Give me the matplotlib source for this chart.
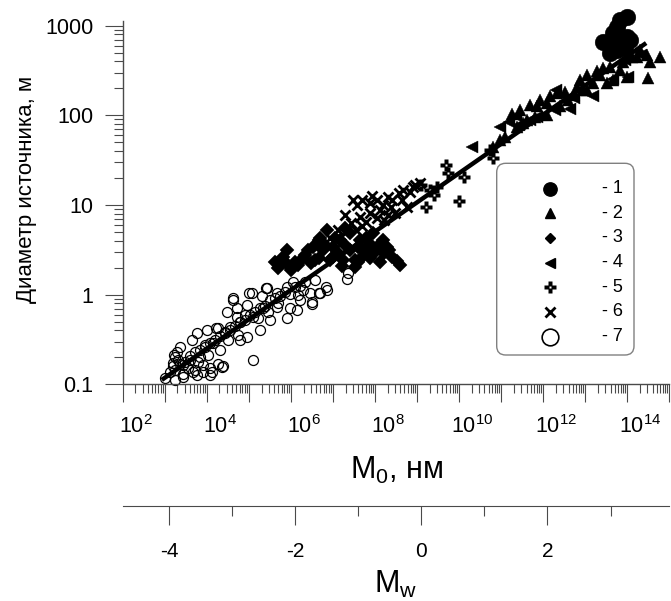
import numpy as np
import matplotlib
matplotlib.use('Agg')
import matplotlib.pyplot as plt
import matplotlib.transforms as mtransforms
from matplotlib.path import Path
from matplotlib.patches import FancyBboxPatch
from matplotlib.lines import Line2D
from matplotlib.ticker import LogLocator, FuncFormatter, FixedLocator, NullFormatter

plt.rcParams['font.family'] = ['Liberation Sans', 'DejaVu Sans']
plt.rcParams['mathtext.fontset'] = 'custom'
plt.rcParams['mathtext.rm'] = 'Liberation Sans'
plt.rcParams['mathtext.it'] = 'Liberation Sans:italic'

# data, stored as log10(M0, N*m) and log10(D, m)
lgm_1 = [13.83, 13.99, 13.75, 13.67, 13.43, 13.55, 13.83, 13.99, 13.59, 13.75, 13.95, 14.07]
lgd_1 = [3.064, 3.10, 2.99, 2.916, 2.822, 2.804, 2.841, 2.878, 2.692, 2.729, 2.766, 2.841]

lgm_2 = [11.25, 11.45, 11.61, 11.85, 11.92, 12.08, 12.16, 12.32, 12.40, 12.60,
         12.72, 12.80, 12.88, 13.03, 13.19, 13.27, 13.43, 13.59, 13.67, 13.83,
         13.90, 13.99, 14.10, 14.22, 14.30, 14.46, 14.54, 14.78,
         10.81, 10.97, 11.09, 11.37, 11.53, 11.81, 12.08, 13.03, 13.51, 14.49,
         11.69, 12.52, 13.35, 12.95]
lgd_2 = [2.02, 2.06, 1.95, 2.10, 2.17, 2.135, 2.21, 2.25, 2.10, 2.17,
         2.23, 2.32, 2.39, 2.45, 2.36, 2.49, 2.525, 2.543, 2.39, 2.506,
         2.60, 2.43, 2.65, 2.65, 2.73, 2.67, 2.60, 2.65,
         1.65, 1.725, 1.76, 1.874, 1.91, 1.985, 2.004, 2.283, 2.358, 2.42,
         2.116, 2.26, 2.45, 2.28]

lgm_3 = [5.82, 5.70, 5.94, 6.18, 6.01, 6.53, 6.41, 6.69, 6.85, 6.57,
         6.77, 7.01, 7.17, 7.41, 7.52, 7.72, 7.88, 8.04, 8.20, 8.28,
         8.40, 8.52, 7.25, 7.01, 7.64, 7.96, 7.41, 7.52, 7.70, 8.21,
         6.92, 6.66, 6.66, 7.29, 5.74, 6.29, 7.83, 8.59, 7.10, 6.48,
         6.10, 6.34, 6.81, 7.05, 7.29, 7.60, 7.79, 8.00, 8.33, 8.12,
         7.88, 7.60, 7.22, 5.62, 5.91]
lgd_3 = [0.42, 0.30, 0.33, 0.33, 0.275, 0.535, 0.50, 0.63, 0.72, 0.387,
         0.50, 0.535, 0.61, 0.50, 0.387, 0.50, 0.57, 0.535, 0.61, 0.535,
         0.42, 0.37, 0.387, 0.42, 0.61, 0.685, 0.685, 0.31, 0.42, 0.46,
         0.387, 0.405, 0.61, 0.74, 0.364, 0.41, 0.475, 0.33, 0.476, 0.35,
         0.364, 0.442, 0.554, 0.632, 0.554, 0.532, 0.632, 0.476, 0.498, 0.364,
         0.409, 0.364, 0.32, 0.364, 0.498]

lgm_4 = [10.30, 10.98, 11.19, 11.35, 11.42, 11.69, 11.85, 12.30, 12.64, 12.72,
         13.19, 13.67, 13.95, 14.02, 14.33, 13.85, 12.28]
lgd_4 = [1.65, 1.865, 1.92, 1.99, 1.89, 1.95, 1.985, 2.28, 2.07, 2.19,
         2.21, 2.41, 2.62, 2.43, 2.67, 2.71, 2.06]

lgm_5 = [9.69, 9.73, 10.12, 9.99, 9.22, 9.09, 9.40, 9.47, 10.81, 10.74, 9.31]
lgd_5 = [1.45, 1.36, 1.31, 1.04, 0.98, 1.22, 1.11, 1.20, 1.52, 1.61, 1.17]

lgm_6 = [7.70, 7.87, 8.04, 8.30, 8.56, 8.82, 8.39, 7.13, 7.44, 7.65,
         7.87, 8.13, 8.48, 8.65, 8.91, 8.21, 7.70, 9.07, 8.04, 8.75,
         6.93, 7.48, 7.29, 7.58, 7.93, 8.19, 8.40, 8.67, 8.95, 7.31,
         7.55, 7.79, 8.31]
lgd_6 = [1.056, 1.02, 1.056, 1.09, 1.13, 1.15, 0.98, 0.72, 0.80, 0.87,
         0.91, 0.945, 0.91, 1.056, 1.20, 0.833, 0.76, 1.24, 0.85, 0.98,
         0.63, 1.06, 0.89, 1.00, 1.10, 1.00, 1.056, 1.17, 1.22, 0.70,
         0.72, 0.81, 0.89]

lgm_7 = [3.28, 3.36, 3.64, 3.76, 4.00, 4.27, 4.47, 4.63, 4.71, 4.79,
         4.91, 5.07, 5.42, 5.66, 5.90, 6.06, 6.29, 6.49, 6.69, 6.85,
         5.98, 5.90, 5.50, 5.27, 4.95, 4.79, 4.43, 4.31, 4.27, 4.08,
         3.92, 3.72, 3.44, 3.24, 5.11, 4.55, 4.95, 5.31, 5.66, 6.22,
         6.45, 6.14, 5.34, 5.11, 4.71, 4.15, 3.96, 3.84, 3.60, 3.32,
         3.20, 3.44, 3.76, 4.08, 4.39, 3.44, 3.68, 3.92, 4.12, 4.35,
         3.20, 5.40, 5.01, 4.62, 4.23, 3.23, 6.83, 7.35, 7.33, 6.66, 6.50,
         3.01, 3.12, 3.24, 3.36, 3.48, 3.60, 3.72, 3.84, 3.96, 4.08,
         4.20, 4.31, 4.43, 4.55, 4.67, 4.79, 4.91, 5.03, 5.15, 5.27,
         5.38, 5.50, 5.62, 5.74, 5.86, 5.98, 6.10, 6.22, 6.34, 6.57,
         3.24, 3.55, 3.79, 4.03, 4.50, 4.74, 5.22, 5.46, 5.69, 6.17]
lgd_7 = [-0.64, -0.58, -0.51, -0.43, -0.39, -0.375, -0.19, -0.06, -0.15, -0.30,
         -0.23, 0.015, 0.07, 0.015, 0.09, 0.145, 0.05, -0.10, 0.015, 0.05,
         -0.15, -0.26, -0.28, -0.39, -0.47, -0.51, -0.43, -0.62, -0.77, -0.82,
         -0.78, -0.84, -0.78, -0.69, -0.73, -0.36, -0.115, -0.02, -0.135, -0.06,
         0.015, -0.17, -0.15, -0.245, -0.245, -0.54, -0.58, -0.69, -0.73, -0.73,
         -0.80, -0.915, -0.90, -0.90, -0.80, -0.88, -0.86, -0.86, -0.86, -0.81,
         -0.76, 0.07, 0.015, -0.04, -0.375, -0.67, 0.09, 0.24, 0.17, 0.02, -0.08,
         -0.93, -0.86, -0.84, -0.77, -0.75, -0.68, -0.64, -0.62, -0.56, -0.54,
         -0.51, -0.46, -0.42, -0.39, -0.35, -0.31, -0.28, -0.23, -0.19, -0.15,
         -0.13, -0.06, -0.04, -0.015, 0.03, 0.01, 0.08, 0.10, 0.14, 0.16,
         -0.95, -0.82, -0.75, -0.67, -0.51, -0.45, -0.26, -0.19, -0.09, 0.00]

# regression line end points
fit_m0 = [8.5e2, 2.8e14]
fit_d = [0.112, 640]

legend_labels = ['- 1', '- 2', '- 3', '- 4', '- 5', '- 6', '- 7']
mw_major = [-4, -2, 0, 2]
mw_minor = [-3, -1, 1, 3]

# plus marker with a hole in the middle
a, b, h = 0.19, 0.5, 0.09
plus_verts = [(-a, b), (a, b), (a, a), (b, a), (b, -a), (a, -a), (a, -b), (-a, -b),
              (-a, -a), (-b, -a), (-b, a), (-a, a), (-a, b),
              (-h, h), (-h, -h), (h, -h), (h, h), (-h, h)]
plus_codes = [Path.MOVETO] + [Path.LINETO] * 11 + [Path.CLOSEPOLY] + \
             [Path.MOVETO] + [Path.LINETO] * 3 + [Path.CLOSEPOLY]
plus_hole = Path(plus_verts, plus_codes)

gray = '#4a4a4a'

fig = plt.figure(figsize=(6.71, 6.01), dpi=100)
ax = fig.add_axes([122.7 / 671, 1 - 384.3 / 601, 546.7 / 671, 363.4 / 601])
ax.set_xscale('log')
ax.set_yscale('log')
ax.set_xlim(1e2, 1e15)
ax.set_ylim(0.1, 1130)


def pts(lgm, lgd):
    return 10 ** np.array(lgm), 10 ** np.array(lgd)


x, y = pts(lgm_7, lgd_7)
ax.plot(x, y, ls='none', marker='o', ms=7.2, mfc='none', mec='k', mew=0.9, clip_on=False, zorder=2)
x, y = pts(lgm_3, lgd_3)
ax.plot(x, y, ls='none', marker='D', ms=7.0, mfc='k', mec='k', mew=0.3, clip_on=False, zorder=3)
x, y = pts(lgm_6, lgd_6)
ax.plot(x, y, ls='none', marker='x', ms=7.4, mec='k', mew=2.0, clip_on=False, zorder=3)
x, y = pts(lgm_5, lgd_5)
ax.plot(x, y, ls='none', marker=plus_hole, ms=8.5, mfc='k', mec='none', clip_on=False, zorder=3)
x, y = pts(lgm_4, lgd_4)
ax.plot(x, y, ls='none', marker='<', ms=8.6, mfc='k', mec='k', mew=0.3, clip_on=False, zorder=3)
x, y = pts(lgm_2, lgd_2)
ax.plot(x, y, ls='none', marker='^', ms=8.6, mfc='k', mec='k', mew=0.3, clip_on=False, zorder=3)
x, y = pts(lgm_1, lgd_1)
ax.plot(x, y, ls='none', marker='o', ms=12, mfc='k', mec='k', mew=0.3, clip_on=False, zorder=3)

ax.plot(fit_m0, fit_d, color='k', lw=3.2, solid_capstyle='butt', zorder=4)

# axes look
for s in ['top', 'right']:
    ax.spines[s].set_visible(False)
for s in ['left', 'bottom']:
    ax.spines[s].set_color(gray)
    ax.spines[s].set_linewidth(1.0)

ax.xaxis.set_major_locator(LogLocator(base=10, numticks=30))
ax.xaxis.set_minor_locator(LogLocator(base=10, subs=np.arange(2, 10), numticks=300))
ax.yaxis.set_major_locator(LogLocator(base=10, numticks=10))
ax.yaxis.set_minor_locator(LogLocator(base=10, subs=np.arange(2, 10), numticks=100))


def xfmt(v, pos):
    e = int(round(np.log10(v)))
    return r'$\mathregular{10^{%d}}$' % e if e % 2 == 0 else ''


ax.xaxis.set_major_formatter(FuncFormatter(xfmt))
ax.xaxis.set_minor_formatter(NullFormatter())
ax.yaxis.set_major_formatter(FuncFormatter(lambda v, p: '%g' % v))
ax.yaxis.set_minor_formatter(NullFormatter())

ax.tick_params(which='major', direction='out', length=13, width=0.8, color=gray, labelsize=15.5)
ax.tick_params(which='minor', direction='out', length=6.5, width=0.8, color=gray)
ax.tick_params(axis='y', which='major', pad=8)
ax.tick_params(axis='x', which='major', pad=9)

shift = mtransforms.ScaledTranslation(0.13, 0, fig.dpi_scale_trans)
for lab in ax.get_xticklabels():
    lab.set_transform(lab.get_transform() + shift)

ax.set_xlabel(r'M$_\mathregular{0}$, нм', fontsize=22, labelpad=12)
fig.text(27 / 671, 1 - 189 / 601, 'Диаметр источника, м', rotation=90,
         ha='center', va='center', fontsize=16)


# moment magnitude scale under the M0 axis
def m0_to_mw(m):
    return (2.0 / 3.0) * (np.log10(m) - 9.1)


ax2 = fig.add_axes([122.7 / 671, 1 - 506 / 601, 546.7 / 671, 0.0001])
ax2.set_xlim(m0_to_mw(1e2), m0_to_mw(1e15))
ax2.set_yticks([])
ax2.patch.set_visible(False)
for s in ['top', 'left', 'right']:
    ax2.spines[s].set_visible(False)
ax2.spines['bottom'].set_color(gray)
ax2.xaxis.set_major_locator(FixedLocator(mw_major))
ax2.xaxis.set_minor_locator(FixedLocator(mw_minor))
ax2.xaxis.set_major_formatter(FuncFormatter(lambda v, p: '%d' % v))
ax2.xaxis.set_minor_formatter(NullFormatter())
ax2.tick_params(which='major', direction='out', length=13.7, width=0.8, color=gray, labelsize=15, pad=12)
ax2.tick_params(which='minor', direction='out', length=7, width=0.8, color=gray)
ax2.set_xlabel(r'M$_\mathregular{w}$', fontsize=22, labelpad=6)

# legend box
fig.add_artist(FancyBboxPatch((4.967, (601 - 355) / 100), 1.373, 1.917,
                              boxstyle='round,pad=0,rounding_size=0.09',
                              transform=fig.dpi_scale_trans, fc='white', ec='#808080', lw=1.0, zorder=5))
leg_styles = [
    dict(marker='o', ms=9.6, mfc='k', mec='k'),
    dict(marker='^', ms=7.7, mfc='k', mec='k'),
    dict(marker='D', ms=5.2, mfc='k', mec='k'),
    dict(marker='<', ms=7.2, mfc='k', mec='k'),
    dict(marker=plus_hole, ms=9, mfc='k', mec='none'),
    dict(marker='x', ms=7.2, mec='k', mew=2.0),
    dict(marker='o', ms=12, mfc='none', mec='k', mew=1.2),
]
for i, (lab, st) in enumerate(zip(legend_labels, leg_styles)):
    yy = 188.5 + 24.7 * i
    fig.add_artist(Line2D([5.50], [(601 - yy) / 100], transform=fig.dpi_scale_trans,
                          ls='none', zorder=6, **st))
    fig.text(601.7 / 671, 1 - yy / 601, lab, ha='left', va='center', fontsize=13, zorder=6)

fig.savefig('out.png', dpi=100)
